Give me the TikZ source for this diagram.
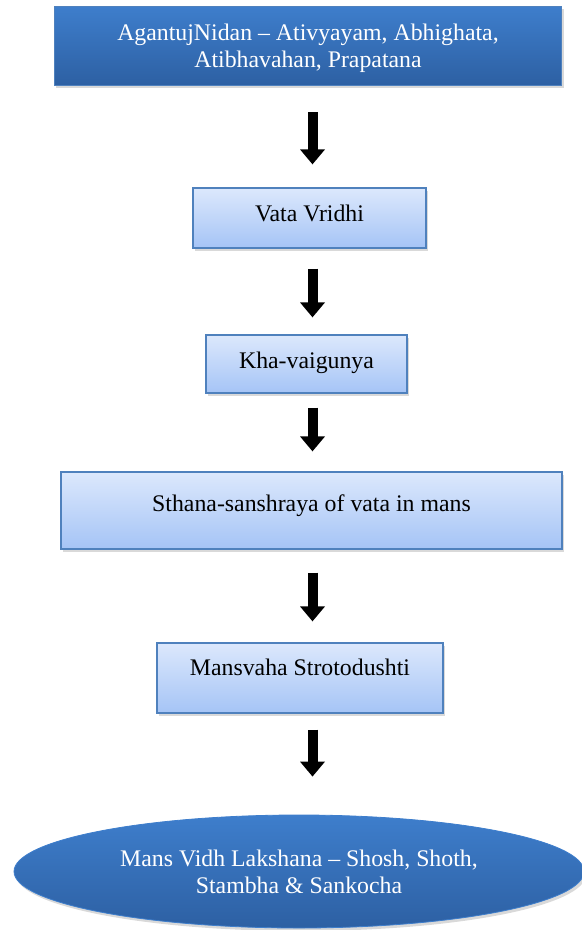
\documentclass[tikz,border=0pt]{standalone}
\usepackage{fontspec}
\setmainfont{Liberation Serif}
\usepackage{tikz}
\usetikzlibrary{shapes.geometric, arrows.meta, shadows}
\definecolor{darktop}{HTML}{3E7ECC}
\definecolor{darkbot}{HTML}{2D60A3}
\definecolor{lighttop}{HTML}{DCE8FC}
\definecolor{lightbot}{HTML}{A5C4F6}
\definecolor{edgeblue}{HTML}{4F81BD}

\begin{document}
\begin{tikzpicture}[x=1bp, y=-1bp,
    box/.style={rectangle, draw=edgeblue, line width=1.2bp, inner sep=0pt, align=center, font=\fontsize{23.8bp}{27bp}\selectfont, drop shadow={opacity=0.3, shadow xshift=2bp, shadow yshift=-3bp}},
    lightbox/.style={box, top color=lighttop, bottom color=lightbot, text height=16bp},
    darkbox/.style={box, top color=darktop, bottom color=darkbot, text=white, line width=0.8bp},
    arrow/.style={-{Triangle[width=24bp, length=15bp]}, line width=10bp}
]
\useasboundingbox (0,0) rectangle (582,930);

\node[darkbox, minimum width=507bp, minimum height=79bp, text depth=0bp] (agantuj) at (308,45.5) {AgantujNidan -- Ativyayam, Abhighata,\\Atibhavahan, Prapatana};
\node[lightbox, minimum width=233bp, minimum height=60bp, text depth=8.6bp] (vata) at (309.5,218) {Vata Vridhi};
\node[lightbox, minimum width=201bp, minimum height=58bp, text depth=8bp] (kha) at (306.5,364) {Kha-vaigunya};
\node[lightbox, minimum width=501bp, minimum height=77bp, text depth=15bp] (sthana) at (311.5,510.5) {Sthana-sanshraya of vata in mans};
\node[lightbox, minimum width=286bp, minimum height=70bp, text depth=22bp] (mansvaha) at (300,678) {Mansvaha Strotodushti};
\node[darkbox, ellipse, draw=darktop, minimum width=570bp, minimum height=113bp] (lakshana) at (299,871.5) {Mans Vidh Lakshana -- Shosh, Shoth,\\Stambha \& Sankocha};

\coordinate (axis) at (312.5,0);
\draw[arrow, shorten <=27bp, shorten >=23bp] (agantuj.south -| axis) -- (vata.north -| axis);
\draw[arrow, shorten <=20bp, shorten >=17bp] (vata.south -| axis) -- (kha.north -| axis);
\draw[arrow, shorten <=14bp, shorten >=20bp] (kha.south -| axis) -- (sthana.north -| axis);
\draw[arrow, shorten <=23bp, shorten >=21bp] (sthana.south -| axis) -- (mansvaha.north -| axis);
\draw[arrow, shorten <=16bp, shorten >=38bp] (mansvaha.south -| axis) -- (lakshana.north -| axis);

\end{tikzpicture}
\end{document}
